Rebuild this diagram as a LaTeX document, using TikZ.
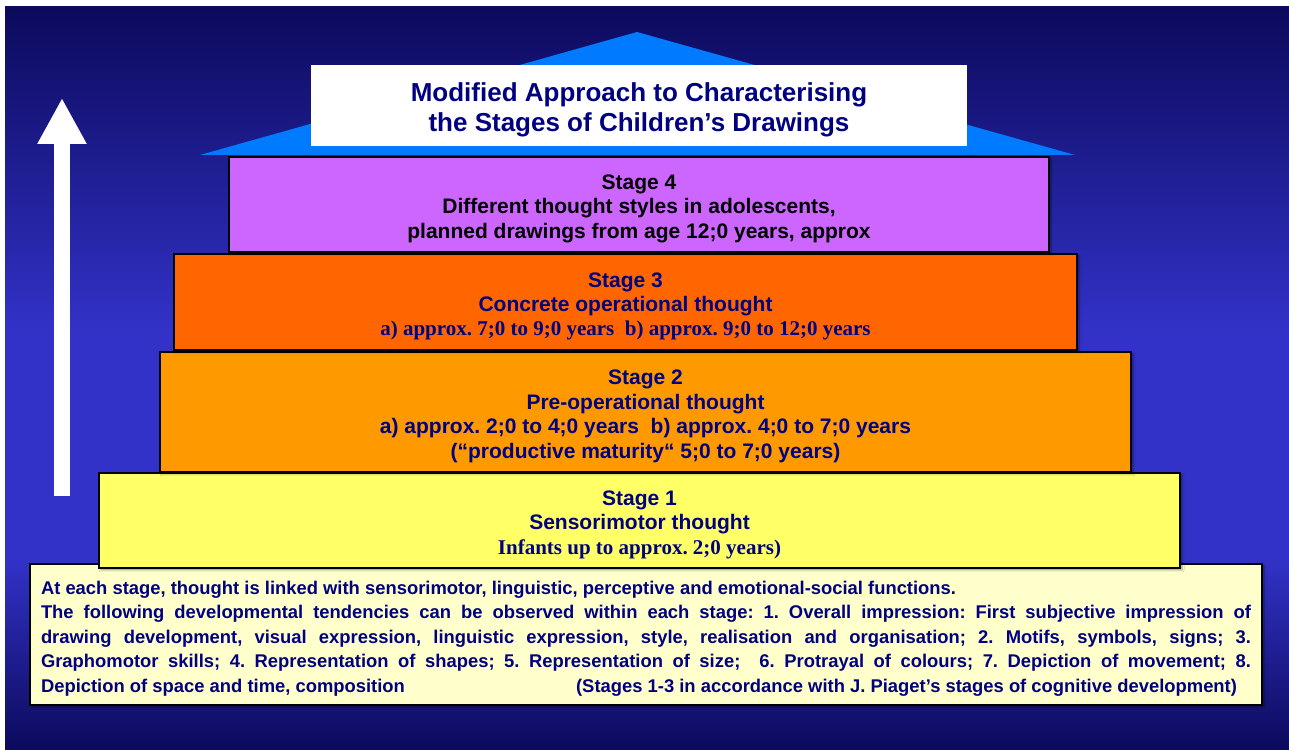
\documentclass[tikz,border=0pt]{standalone}
\usepackage{fontspec}
\setmainfont{Liberation Sans}
\newfontfamily\serifbold{Liberation Serif}
\usetikzlibrary{arrows.meta, shadows.blur}
\definecolor{navytext}{RGB}{0,0,128}
\definecolor{bgdark}{RGB}{12,10,92}
\definecolor{bgbright}{RGB}{50,50,200}
\definecolor{roofblue}{RGB}{0,122,255}
\definecolor{stagefour}{RGB}{204,102,255}
\definecolor{stagethree}{RGB}{255,102,0}
\definecolor{stagetwo}{RGB}{255,153,0}
\definecolor{stageone}{RGB}{255,255,102}
\definecolor{notefill}{RGB}{255,255,204}
\newcommand{\stagestrut}{\rule{0pt}{11.7pt}}
\newcommand{\titlestrut}{\rule{0pt}{13.5pt}}
\tikzset{
    %Define standard arrow tip
    >={Triangle[width=23pt,length=23pt]},
}

\begin{document}
\frenchspacing
\begin{tikzpicture}[x=0.5pt, y=0.5pt]
    \tikzset{
      sb/.style={draw, line width=1pt,
                 %fill=white,
                 shape=rectangle,
                 inner sep=0pt, align=center, text=navytext,
                 font=\bfseries\fontsize{10.5}{12.2}\selectfont},
      shd/.style={blur shadow={shadow blur steps=5, shadow xshift=1pt,
                 shadow yshift=-1pt, shadow blur radius=1pt}}
    }

    \fill[white] (0,0) rectangle (1289,749);
    \useasboundingbox (0,0) rectangle (1289,749);
    % background
    \shade[top color=bgbright, bottom color=bgdark] (5,0) rectangle (1289,190);
    \fill[bgbright] (5,189) rectangle (1289,420);
    \shade[top color=bgdark, bottom color=bgbright] (5,419) rectangle (1289,742);

    % roof and title
    \fill[roofblue] (200,594) -- (637,717) -- (1075,594) -- cycle;
    \node[fill=white, minimum width=328pt, minimum height=40.5pt, inner sep=0pt,
          align=center, text=navytext,
          font=\bfseries\fontsize{13}{15}\selectfont] (title) at (639,643.5)
          {\titlestrut Modified Approach to Characterising\\the Stages of Children’s Drawings};

    \node[sb, shd, fill=notefill, minimum width=616pt, minimum height=70.5pt,
          text width=605pt, align=justify,
          execute at begin node={\rule{0pt}{10.7pt}},
          font=\bfseries\fontsize{9.2}{12.25}\selectfont] (notes) at (646,114.5)
          {At each stage, thought is linked with sensorimotor, linguistic, perceptive and emotional-social functions.\newline
          The following developmental tendencies can be observed within each stage: 1. Overall impression: First subjective impression of\linebreak
          drawing development, visual expression, linguistic expression, style, realisation and organisation; 2. Motifs, symbols, signs; 3.\linebreak
          Graphomotor skills; 4. Representation of shapes; 5. Representation of size;\ \ 6. Protrayal of colours; 7. Depiction of movement; 8.\linebreak
          Depiction of space and time, composition\hfill(Stages 1-3 in accordance with J. Piaget’s stages of cognitive development)\hspace*{7pt}};

    \node[sb, shd, fill=stageone, minimum width=540.5pt, minimum height=47.5pt] (stage1) at (639.5,228.5)
          {\stagestrut Stage 1\\Sensorimotor thought\\{\serifbold Infants up to approx. 2;0 years)}};
    \node[sb, shd, fill=stagetwo, minimum width=485.5pt, minimum height=60pt] (stage2) at (645.5,337)
          {\stagestrut Stage 2\\Pre-operational thought\\a) approx. 2;0 to 4;0 years\ \ b) approx. 4;0 to 7;0 years\\(“productive maturity“ 5;0 to 7;0 years)};
    \node[sb, shd, fill=stagethree, minimum width=451.5pt, minimum height=48pt] (stage3) at (625.5,447)
          {\stagestrut Stage 3\\Concrete operational thought\\{\serifbold a) approx. 7;0 to 9;0 years\ \ b) approx. 9;0 to 12;0 years}};
    \node[sb, shd, fill=stagefour, text=black, minimum width=410pt, minimum height=47.5pt] (stage4) at (639,544.5)
          {\stagestrut Stage 4\\Different thought styles in adolescents,\\planned drawings from age 12;0 years, approx};

    % upward arrow
    \coordinate (arrowfoot) at (62,253);
    \coordinate (arrowtip) at (62,651);
    \draw[white, line width=8pt, ->] (arrowfoot) -- (arrowtip);

\end{tikzpicture}
\end{document}
